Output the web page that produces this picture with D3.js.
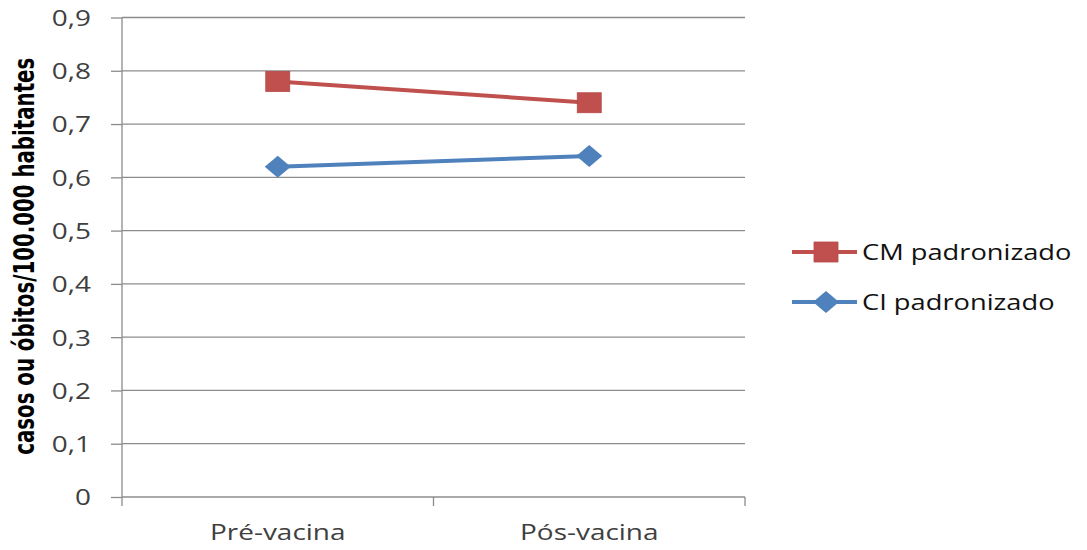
<!DOCTYPE html>
<html>
<head>
<meta charset="utf-8">
<script src="https://cdn.jsdelivr.net/npm/d3@7"></script>
<style>
  html, body { margin: 0; padding: 0; background: #fff; }
  svg { display: block; }
</style>
</head>
<body>
<svg id="chart" width="1087" height="550"></svg>
<script>
// Periods compared
const categories = ["Pré-vacina", "Pós-vacina"];
// Standardized rates per 100.000 inhabitants
const cmValues = [0.78, 0.74];
const ciValues = [0.62, 0.64];
// Y axis ticks
const yTicks = [0, 0.1, 0.2, 0.3, 0.4, 0.5, 0.6, 0.7, 0.8, 0.9];
const yTickLabels = ["0", "0,1", "0,2", "0,3", "0,4", "0,5", "0,6", "0,7", "0,8", "0,9"];
const seriesNames = ["CM padronizado", "CI padronizado"];
const yTitle = "casos ou óbitos/100.000 habitantes";

const svg = d3.select("#chart");
const plotLeft = 122, plotRight = 745, plotTop = 17.5, plotBottom = 497;
const gridColor = "#8c8c8c";
const labelFont = "'Open Sans', 'Noto Sans', sans-serif";
const textWiden = 1.27; // horizontal stretch applied to labels

const x = d3.scaleBand().domain(categories).range([plotLeft, plotRight]);
const y = d3.scaleLinear().domain([0, 0.9]).range([plotBottom, plotTop]);

// Horizontal gridlines
svg.append("g")
  .selectAll("line")
  .data(yTicks.filter(d => d > 0))
  .join("line")
  .attr("x1", plotLeft).attr("x2", plotRight)
  .attr("y1", d => y(d)).attr("y2", d => y(d))
  .attr("stroke", gridColor).attr("stroke-width", 1.3);

// Y axis
const yAxis = d3.axisLeft(y)
  .tickValues(yTicks)
  .tickFormat((d, i) => yTickLabels[i])
  .tickSize(11)
  .tickPadding(20);
const gy = svg.append("g").attr("transform", `translate(${plotLeft},0)`).call(yAxis);
gy.select(".domain").attr("stroke", gridColor).attr("stroke-width", 1.3)
  .attr("d", `M0,${plotTop}V${plotBottom}`);
gy.selectAll(".tick line").attr("stroke", gridColor).attr("stroke-width", 1.3);
gy.selectAll(".tick text")
  .attr("font-family", labelFont).attr("font-size", 22)
  .attr("fill", "#404040").attr("dy", "0.36em")
  .attr("x", function () { return +d3.select(this).attr("x") / textWiden; })
  .attr("transform", `scale(${textWiden},1)`);

// X axis with boundary tick marks
const gx = svg.append("g").attr("transform", `translate(0,${plotBottom})`);
gx.append("line").attr("x1", plotLeft).attr("x2", plotRight)
  .attr("stroke", gridColor).attr("stroke-width", 1.3);
const bounds = [x.range()[0], ...categories.map(c => x(c) + x.bandwidth())];
gx.selectAll("line.tk").data(bounds).join("line").attr("class", "tk")
  .attr("x1", d => d).attr("x2", d => d)
  .attr("y1", 0).attr("y2", 9)
  .attr("stroke", gridColor).attr("stroke-width", 1.3);
gx.selectAll("text").data(categories).join("text")
  .attr("transform", d => `translate(${x(d) + x.bandwidth() / 2},43) scale(${textWiden},1)`)
  .attr("text-anchor", "middle")
  .attr("font-family", labelFont).attr("font-size", 22)
  .attr("fill", "#404040")
  .text(d => d);

// Y axis title
svg.append("text")
  .attr("transform", `translate(34,${(plotTop + plotBottom) / 2 - 1}) scale(1.3,1) rotate(-90)`)
  .attr("text-anchor", "middle")
  .attr("font-family", "'Liberation Sans Narrow', 'DejaVu Sans Condensed', sans-serif")
  .attr("font-stretch", "condensed")
  .attr("font-weight", "bold")
  .attr("font-size", 22)
  .attr("fill", "#000")
  .text(yTitle);

const series = [
  { name: seriesNames[0], values: cmValues, color: "#C0504D", marker: "square" },
  { name: seriesNames[1], values: ciValues, color: "#4F81BD", marker: "diamond" }
];

const line = d3.line()
  .x((d, i) => x(categories[i]) + x.bandwidth() / 2)
  .y(d => y(d));

function drawMarker(g, type, color) {
  if (type === "square") {
    g.append("rect").attr("x", -12).attr("y", -10).attr("width", 24).attr("height", 20)
      .attr("fill", color).attr("stroke", "#b44a47").attr("stroke-width", 0.8);
  } else {
    g.append("path").attr("d", "M0,-11L13,0L0,11L-13,0Z").attr("fill", color);
  }
}

series.forEach(s => {
  svg.append("path").datum(s.values)
    .attr("d", line)
    .attr("fill", "none")
    .attr("stroke", s.color)
    .attr("stroke-width", 4)
    .attr("stroke-linejoin", "round");
  s.values.forEach((v, i) => {
    const g = svg.append("g")
      .attr("transform", `translate(${x(categories[i]) + x.bandwidth() / 2},${y(v)})`);
    drawMarker(g, s.marker, s.color);
  });
});

// Legend
const legend = svg.append("g");
series.forEach((s, i) => {
  const ly = 252 + i * 50;
  const g = legend.append("g").attr("transform", `translate(0,${ly})`);
  g.append("line").attr("x1", 792).attr("x2", 857).attr("y1", 0).attr("y2", 0)
    .attr("stroke", s.color).attr("stroke-width", 4);
  const m = g.append("g").attr("transform", "translate(826,0)");
  drawMarker(m, s.marker, s.color);
  g.append("text")
    .attr("transform", `translate(862,0) scale(1.24,1)`)
    .attr("dy", "0.36em")
    .attr("font-family", labelFont).attr("font-size", 22)
    .attr("fill", "#111")
    .text(s.name);
});
</script>
</body>
</html>
